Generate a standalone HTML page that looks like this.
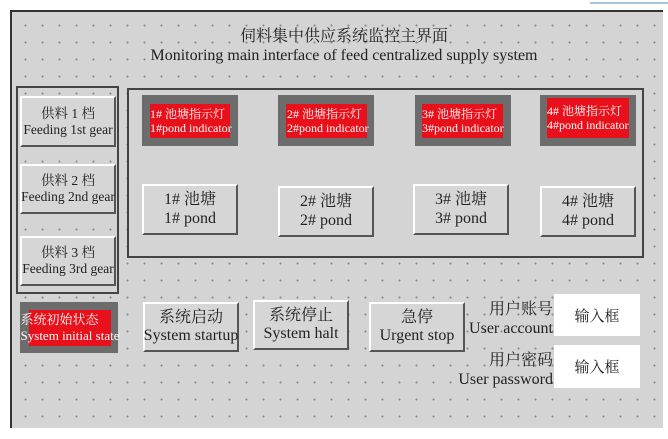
<!DOCTYPE html>
<html><head><meta charset="utf-8"><style>
body{margin:0;width:668px;height:439px;background:#fff;position:relative;overflow:hidden;font-family:"Liberation Serif","Noto Serif CJK SC",serif;color:#222}
.p{position:absolute;left:10px;top:10px;width:653px;height:418px;background-color:#d4d4d4;border-left:2px solid #333;border-top:2px solid #333;box-sizing:border-box;
background-image:radial-gradient(circle,#888 0.8px,transparent 1.2px);background-size:17px 17px;background-position:5px 5px}
.a{position:absolute;box-sizing:border-box}
.g{border:2px solid #444;background:#d4d4d4}
.b{background:#d6d6d6;border:2px solid;border-color:#fff #555 #555 #fff;display:flex;flex-direction:column;align-items:center;justify-content:center;text-align:center;line-height:1.15;white-space:nowrap}
.f{background:#6c6c6c}
.r{position:absolute;background:#e8101a;color:#fff;font-size:12px;line-height:1.2;display:flex;flex-direction:column;justify-content:center;white-space:nowrap;overflow:visible}
.w{background:#fff;display:flex;align-items:center;justify-content:center;font-size:15px}
</style></head><body>
<div class="a" style="left:590px;top:2px;width:78px;height:2px;background:#a9c4dc"></div>
<div class="p"></div>
<div class="a" style="left:0;top:27px;width:668px;text-align:center;font-size:16px;line-height:1.2;padding-left:20px">伺料集中供应系统监控主界面<br>Monitoring main interface of feed centralized supply system</div>
<div class="a g" style="left:16px;top:86px;width:103px;height:208px;background:transparent"></div>
<div class="a g" style="left:127px;top:88px;width:517px;height:170px"></div>
<div class="a b" style="left:20px;top:96px;width:96px;height:51px;font-size:13.5px">供料 1 档<br>Feeding 1st gear</div>
<div class="a b" style="left:20px;top:164px;width:96px;height:50px;font-size:13.5px">供料 2 档<br>Feeding 2nd gear</div>
<div class="a b" style="left:20px;top:236px;width:96px;height:50px;font-size:13.5px">供料 3 档<br>Feeding 3rd gear</div>

<div class="a f" style="left:142px;top:95px;width:96px;height:51px"><div class="r" style="left:8px;top:9px;width:80px;height:34px">1# 池塘指示灯<br>1#pond indicator</div></div>
<div class="a f" style="left:278px;top:95px;width:96px;height:51px"><div class="r" style="left:8px;top:9px;width:80px;height:34px;padding-left:1px">2# 池塘指示灯<br>2#pond indicator</div></div>
<div class="a f" style="left:415px;top:95px;width:96px;height:51px"><div class="r" style="left:7px;top:9px;width:81px;height:34px">3# 池塘指示灯<br>3#pond indicator</div></div>
<div class="a f" style="left:540px;top:95px;width:96px;height:51px"><div class="r" style="left:7px;top:3px;width:82px;height:40px">4# 池塘指示灯<br>4#pond indicator</div></div>

<div class="a b" style="left:142px;top:184px;width:96px;height:51px;font-size:16px">1# 池塘<br>1# pond</div>
<div class="a b" style="left:278px;top:186px;width:96px;height:51px;font-size:16px">2# 池塘<br>2# pond</div>
<div class="a b" style="left:413px;top:184px;width:96px;height:51px;font-size:16px">3# 池塘<br>3# pond</div>
<div class="a b" style="left:540px;top:186px;width:96px;height:51px;font-size:16px">4# 池塘<br>4# pond</div>

<div class="a f" style="left:20px;top:302px;width:98px;height:51px"><div class="r" style="left:9px;top:8px;width:82px;height:36px;font-size:13px;align-items:center">系统初始状态<br>System initial state</div></div>
<div class="a b" style="left:143px;top:302px;width:96px;height:50px;font-size:16px">系统启动<br>System startup</div>
<div class="a b" style="left:253px;top:300px;width:96px;height:50px;font-size:16px">系统停止<br>System halt</div>
<div class="a b" style="left:369px;top:302px;width:96px;height:50px;font-size:16px">急停<br>Urgent stop</div>
<div class="a" style="left:450px;top:300px;width:103px;text-align:right;font-size:16px;line-height:1.2">用户账号<br>User account</div>
<div class="a" style="left:440px;top:351px;width:113px;text-align:right;font-size:16px;line-height:1.2">用户密码<br>User password</div>
<div class="a w" style="left:554px;top:294px;width:86px;height:42px">输入框</div>
<div class="a w" style="left:554px;top:345px;width:86px;height:43px">输入框</div>
</body></html>
